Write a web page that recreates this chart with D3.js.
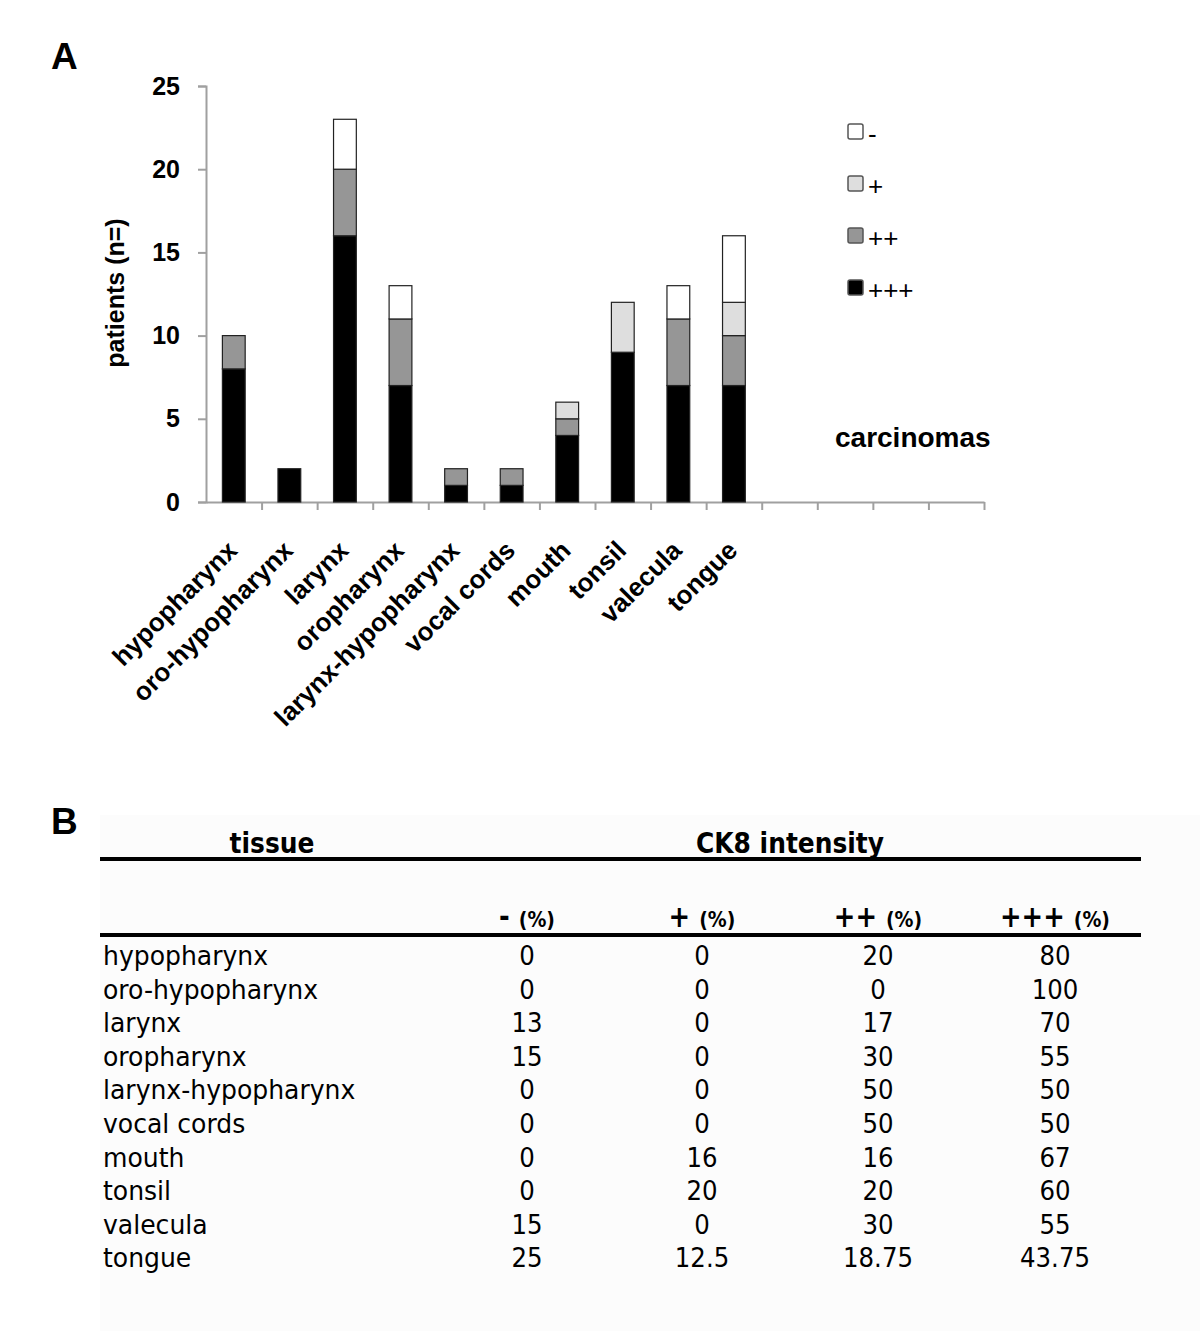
<!DOCTYPE html>
<html>
<head>
<meta charset="utf-8">
<script src="https://cdn.jsdelivr.net/npm/d3@7"></script>
<style>
  body { margin: 0; background: #fff; }
  .chart text { fill: #000; }
</style>
</head>
<body>
<div class="chart"></div>
<script>
// CK8 intensity in head and neck carcinomas: stacked bars (A) and percentage table (B)

var tissues = ["hypopharynx", "oro-hypopharynx", "larynx", "oropharynx", "larynx-hypopharynx",
  "vocal cords", "mouth", "tonsil", "valecula", "tongue"];

// patients per intensity class (bottom to top of each stack)
var plus3 = [8, 2, 16, 7, 1, 1, 4, 9, 7, 7];
var plus2 = [2, 0, 4, 4, 1, 1, 1, 0, 4, 3];
var plus1 = [0, 0, 0, 0, 0, 0, 1, 3, 0, 2];
var neg = [0, 0, 3, 2, 0, 0, 0, 0, 2, 4];

var seriesKeys = ["+++", "++", "+", "-"];
var yTicks = [0, 5, 10, 15, 20, 25];

// table B, percentages as printed
var pctNeg = ["0", "0", "13", "15", "0", "0", "0", "0", "15", "25"];
var pctPlus1 = ["0", "0", "0", "0", "0", "0", "16", "20", "0", "12.5"];
var pctPlus2 = ["20", "0", "17", "30", "50", "50", "16", "20", "30", "18.75"];
var pctPlus3 = ["80", "100", "70", "55", "50", "50", "67", "60", "55", "43.75"];
var colHeads = ["-", "+", "++", "+++"];

var svgWidth = 1200;
var svgHeight = 1331;

// excel-style axis has 14 category slots, only the first 10 used
var nSlots = 14;

var colors = {
  "+++": "#000000",
  "++": "#969696",
  "+": "#dedede",
  "-": "#ffffff"
};

var svg = d3.select(".chart")
  .append("svg")
  .attr("width", svgWidth)
  .attr("height", svgHeight);

// ---------- panel A ----------
var plot = { left: 206, right: 984, top: 86, bottom: 502 };

var xBand = d3.scaleBand()
  .domain(d3.range(nSlots))
  .range([plot.left, plot.right])
  .paddingInner(0.59)
  .paddingOuter(0.295);

var xEdge = d3.scaleLinear()
  .domain([0, nSlots])
  .range([plot.left, plot.right]);

var yScale = d3.scaleLinear()
  .domain([0, 25])
  .range([plot.bottom, plot.top]);

var table = tissues.map(function(t, i) {
  return { tissue: t, idx: i, "+++": plus3[i], "++": plus2[i], "+": plus1[i], "-": neg[i] };
});

var stacked = d3.stack().keys(seriesKeys)(table);

svg.append("text")
  .attr("x", 51)
  .attr("y", 69)
  .style("font-family", "'Liberation Sans', Arial, sans-serif")
  .style("font-weight", "bold")
  .style("font-size", "37px")
  .text("A");

// y axis
var leftAxis = d3.axisLeft(yScale)
  .tickValues(yTicks)
  .tickSize(8)
  .tickPadding(18);

var yAxisG = svg.append("g")
  .attr("transform", `translate(${plot.left}, 0)`)
  .call(leftAxis);

yAxisG.select(".domain").attr("stroke", "#a0a0a0").attr("stroke-width", 2);
yAxisG.selectAll(".tick line").attr("stroke", "#a0a0a0").attr("stroke-width", 2);
yAxisG.selectAll(".tick text")
  .style("font-family", "'Liberation Sans', Arial, sans-serif")
  .style("font-weight", "bold")
  .style("font-size", "25px")
  .attr("fill", "#000");

// x axis: ticks on the slot boundaries
var bottomAxis = d3.axisBottom(xEdge)
  .tickValues(d3.range(1, nSlots + 1))
  .tickSize(8)
  .tickSizeOuter(0)
  .tickFormat("");

var xAxisG = svg.append("g")
  .attr("transform", `translate(0, ${plot.bottom})`)
  .call(bottomAxis);

xAxisG.select(".domain").attr("stroke", "#a0a0a0").attr("stroke-width", 2);
xAxisG.selectAll(".tick line").attr("stroke", "#a0a0a0").attr("stroke-width", 2);

// stacked bars
svg.append("g")
  .selectAll("g")
  .data(stacked)
  .enter()
  .append("g")
  .attr("fill", d => colors[d.key])
  .selectAll("rect")
  .data(d => d.filter(s => s[1] - s[0] > 0))
  .enter()
  .append("rect")
  .attr("x", d => xBand(d.data.idx))
  .attr("y", d => yScale(d[1]))
  .attr("width", xBand.bandwidth())
  .attr("height", d => yScale(d[0]) - yScale(d[1]))
  .attr("stroke", "#222")
  .attr("stroke-width", 1.2);

// rotated category labels
svg.append("g")
  .selectAll("text")
  .data(tissues)
  .enter()
  .append("text")
  .attr("transform", (d, i) => `translate(${xBand(i) + xBand.bandwidth() / 2 + 5}, ${plot.bottom + 50}) rotate(-45)`)
  .attr("text-anchor", "end")
  .style("font-family", "'Liberation Sans', Arial, sans-serif")
  .style("font-weight", "bold")
  .style("font-size", "26px")
  .text(d => d);

// y axis title
svg.append("text")
  .attr("transform", "translate(124, 293) rotate(-90)")
  .attr("text-anchor", "middle")
  .style("font-family", "'Liberation Sans', Arial, sans-serif")
  .style("font-weight", "bold")
  .style("font-size", "25px")
  .text("patients (n=)");

// legend, "-" on top
var legend = svg.append("g")
  .selectAll("g")
  .data(seriesKeys.slice().reverse())
  .enter()
  .append("g")
  .attr("transform", (d, i) => `translate(848, ${124 + i * 52})`);

legend.append("rect")
  .attr("width", 15)
  .attr("height", 15)
  .attr("rx", 2)
  .attr("fill", d => colors[d])
  .attr("stroke", "#555")
  .attr("stroke-width", 1.5);

legend.append("text")
  .attr("x", 20)
  .attr("y", 19)
  .style("font-family", "'Liberation Sans', Arial, sans-serif")
  .style("font-size", "26px")
  .text(d => d);

svg.append("text")
  .attr("x", 835)
  .attr("y", 447)
  .style("font-family", "'Liberation Sans', Arial, sans-serif")
  .style("font-weight", "bold")
  .style("font-size", "28px")
  .text("carcinomas");

// ---------- panel B ----------
svg.append("rect")
  .attr("x", 100)
  .attr("y", 815)
  .attr("width", 1100)
  .attr("height", 516)
  .attr("fill", "#fcfcfc");

svg.append("text")
  .attr("x", 51)
  .attr("y", 834)
  .style("font-family", "'Liberation Sans', Arial, sans-serif")
  .style("font-weight", "bold")
  .style("font-size", "37px")
  .text("B");

var colX = [527, 702, 878, 1055];
var rowY = d3.scaleLinear().domain([0, 1]).range([965, 998.6]);
var tableFont = "'DejaVu Sans', Verdana, sans-serif";

function headText(x, y, size) {
  return svg.append("text")
    .attr("transform", `translate(${x}, ${y}) scale(0.86, 1)`)
    .attr("text-anchor", "middle")
    .style("font-family", tableFont)
    .style("font-weight", "bold")
    .style("font-size", size + "px");
}

headText(272, 853, 29).text("tissue");
headText(790, 853, 29).text("CK8 intensity");

colHeads.forEach(function(h, j) {
  var t = headText(colX[j], 927, 30);
  t.append("tspan").text(h + " ");
  t.append("tspan").style("font-size", "22px").text("(%)");
});

[859, 935].forEach(function(y) {
  svg.append("line")
    .attr("x1", 100)
    .attr("x2", 1141)
    .attr("y1", y)
    .attr("y2", y)
    .attr("stroke", "#000")
    .attr("stroke-width", 4);
});

var rows = svg.append("g")
  .selectAll("g")
  .data(tissues)
  .enter()
  .append("g")
  .attr("transform", (d, i) => `translate(0, ${rowY(i)})`)
  .style("font-family", tableFont)
  .style("font-size", "26px");

rows.append("text")
  .attr("transform", "translate(103, 0) scale(0.965, 1)")
  .text(d => d);

[pctNeg, pctPlus1, pctPlus2, pctPlus3].forEach(function(col, j) {
  rows.append("text")
    .attr("transform", `translate(${colX[j]}, 0) scale(0.94, 1)`)
    .attr("text-anchor", "middle")
    .text((d, i) => col[i]);
});
</script>
</body>
</html>
